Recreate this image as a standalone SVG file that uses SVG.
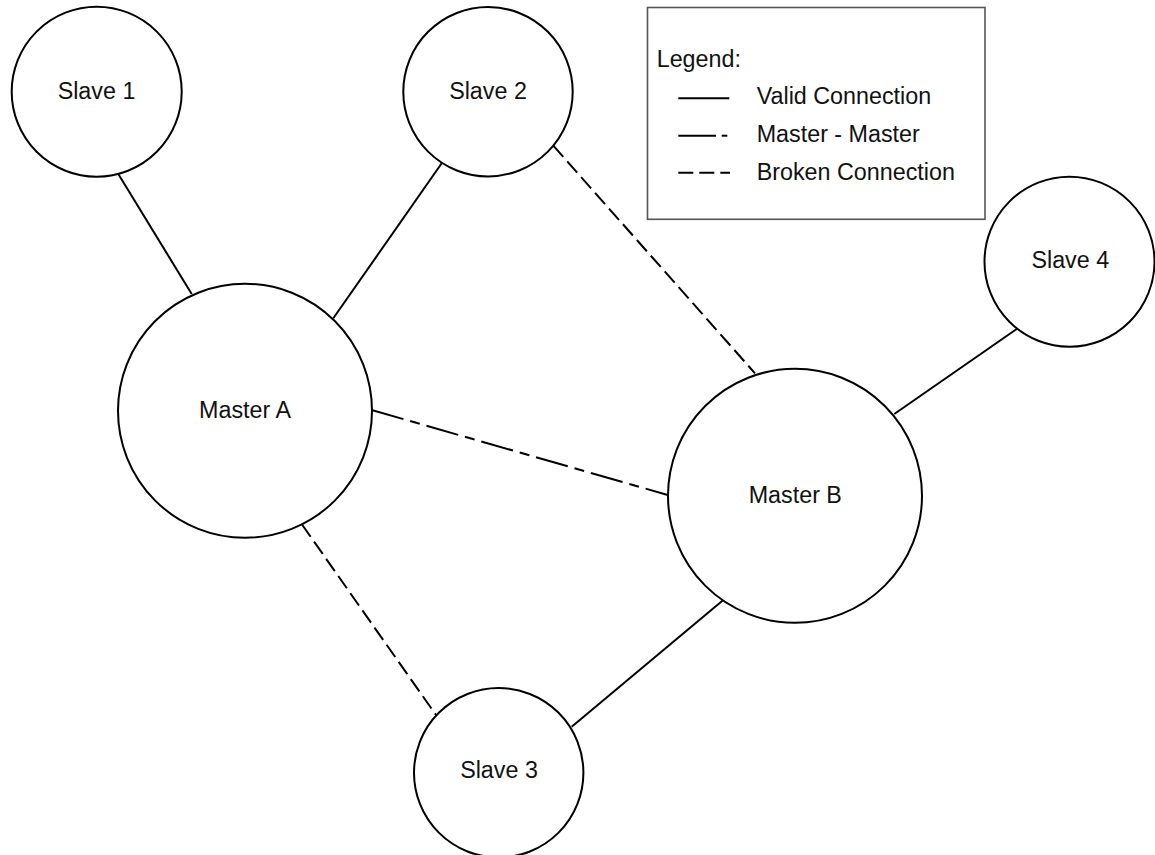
<svg xmlns="http://www.w3.org/2000/svg" width="1155" height="855" viewBox="0 0 1155 855">
  <style>
    .node { fill: #ffffff; stroke: #000000; stroke-width: 2; }
    .label { font-family: "Liberation Sans", Arial, sans-serif; font-size: 23.3px; fill: #111111; text-anchor: middle; }
    .legend-text { font-family: "Liberation Sans", Arial, sans-serif; font-size: 23.3px; fill: #111111; }
    .link { stroke: #000000; stroke-width: 2; fill: none; }
    .valid { }
    .broken { stroke-dasharray: 15 6; }
    .master { stroke-dasharray: 33 7 10 7; }
  </style>

  <rect width="1155" height="855" fill="#ffffff"/>

  <!-- Connectors -->
  <g id="connectors">
    <line class="link valid" x1="118.3" y1="174" x2="191.7" y2="294"/>
    <line class="link valid" x1="441.7" y1="163.3" x2="333.3" y2="318.3"/>
    <line class="link broken" x1="553.3" y1="145.7" x2="755" y2="373.3"/>
    <line class="link master" x1="371.7" y1="410" x2="667.7" y2="495"/>
    <line class="link broken" x1="302" y1="524.5" x2="436" y2="715"/>
    <line class="link valid" x1="723.3" y1="600" x2="571.7" y2="726.7"/>
    <line class="link valid" x1="894.3" y1="414" x2="1016.7" y2="329"/>
  </g>

  <!-- Nodes -->
  <g id="slave1">
    <circle class="node" cx="96.7" cy="91.7" r="85"/>
    <text class="label" x="96.5" y="99">Slave 1</text>
  </g>
  <g id="slave2">
    <circle class="node" cx="488" cy="91.7" r="84.7"/>
    <text class="label" x="488" y="99">Slave 2</text>
  </g>
  <g id="masterA">
    <circle class="node" cx="245" cy="410.8" r="127"/>
    <text class="label" x="245" y="417.5">Master A</text>
  </g>
  <g id="masterB">
    <circle class="node" cx="795" cy="495.8" r="127"/>
    <text class="label" x="795.3" y="502.7">Master B</text>
  </g>
  <g id="slave3">
    <circle class="node" cx="498.7" cy="772.7" r="84.7"/>
    <text class="label" x="499" y="778.3">Slave 3</text>
  </g>
  <g id="slave4">
    <circle class="node" cx="1069.5" cy="261.7" r="85"/>
    <text class="label" x="1070.3" y="268.3">Slave 4</text>
  </g>

  <!-- Legend -->
  <g id="legend">
    <rect x="647.5" y="7.5" width="337.5" height="211.8" fill="#ffffff" stroke="#555555" stroke-width="1.6"/>
    <text class="legend-text" x="656.7" y="66.7">Legend:</text>
    <line class="link" x1="678.3" y1="98.3" x2="729.3" y2="98.3"/>
    <text class="legend-text" x="756.7" y="104">Valid Connection</text>
    <line class="link" x1="678.3" y1="135.7" x2="716" y2="135.7"/>
    <line class="link" x1="721.7" y1="135.7" x2="727.3" y2="135.7"/>
    <text class="legend-text" x="756.7" y="141.7">Master - Master</text>
    <line class="link broken" x1="678.3" y1="172.7" x2="730" y2="172.7"/>
    <text class="legend-text" x="756.7" y="180">Broken Connection</text>
  </g>
</svg>
